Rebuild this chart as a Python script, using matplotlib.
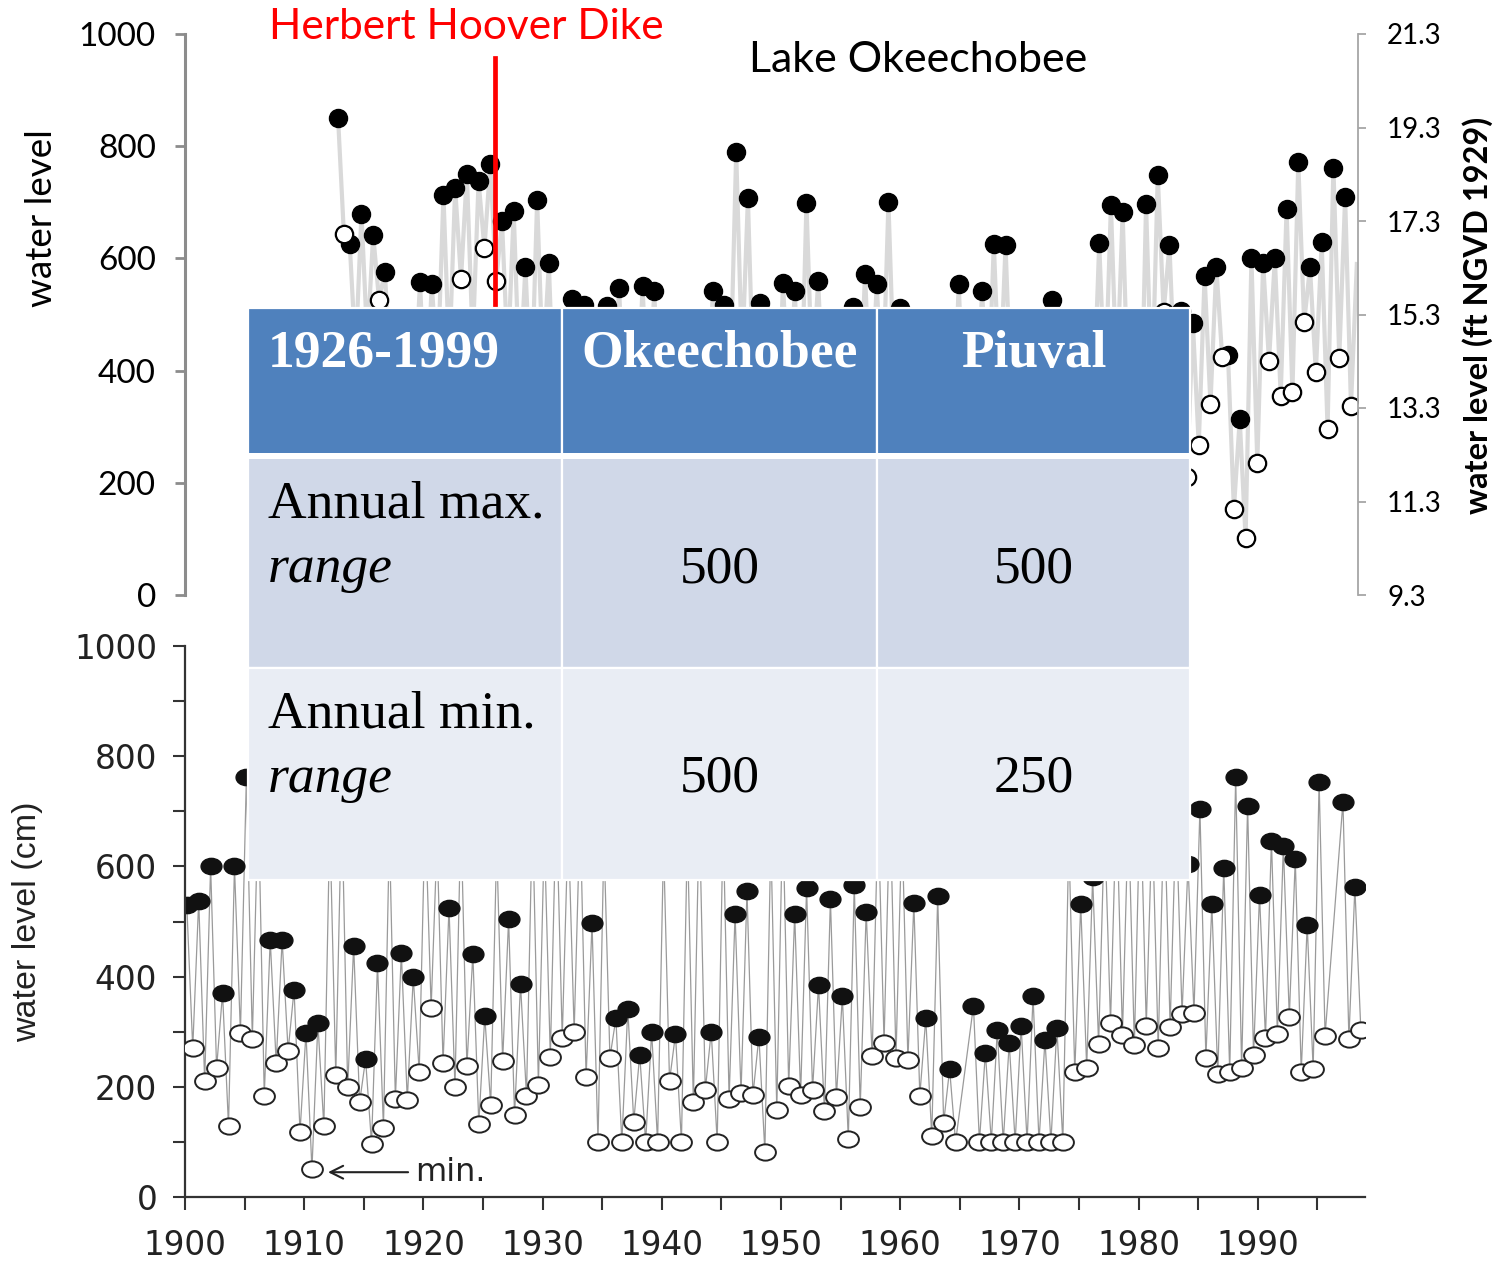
import numpy as np
import matplotlib.pyplot as plt
from matplotlib.path import Path
from matplotlib.transforms import Affine2D
from matplotlib.patches import Rectangle

# ------------------------------- data -------------------------------------- #

# Lake Okeechobee: annual max (1913-2000) and annual min (1913-1999)
top_max_years = list(range(1913, 2001))
top_max = [851, 625, 680, 642, 576, 470, 480, 558, 554, 713,
           726, 751, 738, 768, 667, 684, 584, 704, 591, 480,
           527, 517, 480, 515, 547, 475, 551, 541, 470, 470,
           460, 480, 541, 517, 790, 707, 521, 480, 557, 542,
           698, 560, 470, 470, 514, 573, 554, 700, 512, 480,
           470, 465, 460, 554, 480, 542, 626, 623, 470, 480,
           475, 526, 470, 460, 480, 627, 695, 682, 480, 697,
           748, 623, 507, 485, 569, 585, 427, 313, 600, 591,
           600, 688, 771, 584, 629, 762, 709, 590]
top_min_years = list(range(1913, 2000))
top_min = [643, 430, 450, 526, 380, 300, 350, 320, 400, 420,
           563, 450, 618, 559, 420, 380, 350, 400, 300, 320,
           280, 300, 350, 330, 300, 280, 320, 300, 280, 300,
           250, 270, 320, 380, 420, 350, 300, 280, 330, 300,
           380, 320, 260, 220, 300, 330, 350, 380, 300, 250,
           280, 300, 260, 300, 320, 330, 360, 340, 200, 250,
           300, 280, 260, 300, 330, 360, 380, 330, 220, 350,
           505, 360, 211, 267, 340, 424, 153, 101, 236, 417,
           355, 361, 486, 397, 296, 423, 337]
dike_year = 1926.4

# Piuval: annual max / min (no record for 1965 and 1996)
bot_years = [y for y in range(1900, 1999) if y not in (1965, 1996)]
bot_max = [530, 538, 600, 370, 600, 763, 720, 467, 467, 376,
           298, 315, 680, 720, 456, 250, 424, 660, 443, 399,
           700, 650, 525, 690, 441, 328, 640, 504, 386, 700,
           660, 720, 680, 700, 497, 650, 324, 341, 258, 300,
           640, 295, 660, 700, 300, 680, 514, 555, 291, 650,
           700, 513, 561, 385, 540, 364, 566, 518, 700, 720,
           680, 533, 324, 546, 232, 347, 262, 303, 279,
           311, 364, 285, 307, 650, 531, 580, 680, 720, 700,
           740, 690, 720, 700, 604, 704, 531, 598, 762, 710,
           548, 647, 637, 613, 494, 754, 717, 562]
bot_min = [270, 210, 234, 129, 298, 287, 184, 243, 265, 118,
           50, 128, 221, 199, 172, 97, 126, 178, 176, 227,
           343, 243, 200, 237, 133, 167, 247, 149, 183, 204,
           254, 288, 300, 217, 100, 253, 100, 137, 100, 100,
           211, 100, 172, 194, 100, 178, 188, 185, 82, 158,
           201, 185, 194, 156, 181, 106, 163, 255, 280, 252,
           249, 184, 110, 135, 100, 100, 100, 100, 100,
           100, 100, 100, 100, 226, 235, 277, 316, 294, 275,
           310, 270, 309, 332, 334, 252, 223, 227, 234, 258,
           289, 296, 327, 227, 232, 293, 287, 303]

# summary table
table_header = ['1926-1999', 'Okeechobee', 'Piuval']
table_rows = ['Annual max.', 'Annual min.']
table_okee = ['500', '500']
table_piuval = ['500', '250']

# ------------------------------- figure ------------------------------------ #

W, H = 1495, 1264
fig = plt.figure(figsize=(W / 100, H / 100), dpi=100)


def fx(px):
    return px / W


def fy(py):
    return 1 - py / H


# ---------------------------- top panel ------------------------------------ #

ax1 = fig.add_axes([fx(185), fy(595), (1358 - 185) / W, (595 - 34) / H])

tx = np.empty(len(top_max) + len(top_min))
tv = np.empty_like(tx)
tx[0::2] = np.array(top_max_years) + 0.0
tx[1::2] = np.array(top_min_years) + 0.5
tv[0::2] = top_max
tv[1::2] = top_min

ax1.plot(tx, tv, color='#d9d9d9', lw=3, zorder=1)
ax1.plot(top_max_years[:-1], top_max[:-1], 'o', ms=13, color='black', zorder=2)
ax1.plot(np.array(top_min_years) + 0.5, top_min, 'o', ms=12.5,
         mfc='white', mec='black', mew=1.6, zorder=3)
ax1.plot([dike_year, dike_year], [0, 957], color='red', lw=3.4, zorder=4)

ax1.set_xlim(1899.93, 2000.1)
ax1.set_ylim(0, 1000)
for s in ['top', 'bottom', 'right']:
    ax1.spines[s].set_visible(False)
ax1.spines['left'].set_color('#8c8c8c')
ax1.spines['left'].set_linewidth(2.2)
ax1.set_xticks([])
ax1.set_yticks(range(0, 1001, 200))
ax1.tick_params(axis='y', direction='out', length=7, width=2, color='#8c8c8c',
                labelsize=24, pad=14)
for lab in ax1.get_yticklabels():
    lab.set_family('Lato')

ax1b = ax1.twinx()
ax1b.set_ylim(9.3, 21.3)
ft_ticks = [9.3, 11.3, 13.3, 15.3, 17.3, 19.3, 21.3]
ax1b.set_yticks(ft_ticks)
ax1b.set_yticklabels(['%.1f' % t for t in ft_ticks], family='Lato')
for s in ['top', 'bottom', 'left']:
    ax1b.spines[s].set_visible(False)
ax1b.spines['right'].set_color('#a6a6a6')
ax1b.spines['right'].set_linewidth(1.3)
ax1b.tick_params(axis='y', direction='out', length=6, width=1.3, color='#a6a6a6',
                 labelsize=20, pad=15)

# --------------------------- bottom panel ---------------------------------- #

ax2 = fig.add_axes([fx(185), fy(1197), (1365 - 185) / W, (1197 - 646) / H])

bx = np.empty(2 * len(bot_years))
bv = np.empty_like(bx)
bx[0::2] = np.array(bot_years) + 0.15
bx[1::2] = np.array(bot_years) + 0.65
bv[0::2] = bot_max
bv[1::2] = bot_min

ellipse = Path.unit_circle().transformed(Affine2D().scale(1.0, 0.78))
ax2.plot(bx, bv, color='#9a9a9a', lw=0.9, zorder=1)
ax2.plot(bx[0::2], bot_max, ls='none', marker=ellipse, ms=15,
         color='#111111', zorder=2)
ax2.plot(bx[1::2], bot_min, ls='none', marker=ellipse, ms=15,
         mfc='white', mec='#222222', mew=1.4, zorder=3)

ax2.annotate('min.', xy=(1912.0, 45), xytext=(1919.3, 45),
             fontsize=23, family='DejaVu Sans', va='center', ha='left',
             color='#222222',
             arrowprops=dict(arrowstyle='->', lw=1.5, color='#222222',
                             shrinkA=3, shrinkB=0))

ax2.set_xlim(1900, 1999)
ax2.set_ylim(0, 1000)
for s in ['top', 'right']:
    ax2.spines[s].set_visible(False)
for s in ['left', 'bottom']:
    ax2.spines[s].set_color('#333333')
    ax2.spines[s].set_linewidth(1.6)
ax2.set_xticks(range(1900, 1991, 10))
ax2.set_xticks(range(1905, 1999, 10), minor=True)
ax2.set_yticks(range(0, 1001, 200))
ax2.set_yticks(range(100, 1000, 200), minor=True)
ax2.tick_params(axis='both', which='both', direction='out', length=9, width=1.5,
                color='#333333', labelsize=23.5, labelcolor='#222222')
ax2.tick_params(axis='x', pad=14)
ax2.tick_params(axis='y', pad=11)
for lab in ax2.get_xticklabels() + ax2.get_yticklabels():
    lab.set_family('DejaVu Sans')

# ------------------------------ labels ------------------------------------- #

fig.text(fx(42), fy(218), 'water level', rotation=90, ha='center', va='center',
         fontsize=26.5, family='Lato')
fig.text(fx(1478), fy(315), 'water level (ft NGVD 1929)', rotation=90,
         ha='center', va='center', fontsize=23.5, fontweight='bold', family='Lato')
fig.text(fx(28), fy(922), 'water level (cm)', rotation=90, ha='center',
         va='center', fontsize=24.5, family='Liberation Sans', color='#222222')
fig.text(fx(466), fy(27), 'Herbert Hoover Dike', ha='center', va='center',
         fontsize=30.5, color='#ff0000', family='Lato')
fig.text(fx(918), fy(60), 'Lake Okeechobee', ha='center', va='center',
         fontsize=31, family='Lato')

# ------------------------------ table -------------------------------------- #

col_edges = [248, 562, 877, 1190]
row_edges = [308, 455, 668, 880]
row_colors = ['#4f81bd', '#d0d8e8', '#e9edf4']

for r in range(3):
    for c in range(3):
        x0, x1 = col_edges[c], col_edges[c + 1]
        y0, y1 = row_edges[r], row_edges[r + 1]
        fig.add_artist(Rectangle((fx(x0), fy(y1)), (x1 - x0) / W, (y1 - y0) / H,
                                 transform=fig.transFigure,
                                 facecolor=row_colors[r], edgecolor='white',
                                 lw=1.6, zorder=5))
fig.add_artist(Rectangle((fx(248), fy(459)), (1190 - 248) / W, 6 / H,
                         transform=fig.transFigure, facecolor='white',
                         edgecolor='none', zorder=5))

serif = 'Liberation Serif'
fig.text(fx(268), fy(354), table_header[0], ha='left', va='center',
         fontsize=38.5, fontweight='bold', color='white', family=serif, zorder=6)
for c, name in zip([720, 1034], table_header[1:]):
    fig.text(fx(c), fy(354), name, ha='center', va='center', fontsize=38.5,
             fontweight='bold', color='white', family=serif, zorder=6)

for i, (ya, yb) in enumerate([(504, 569), (714, 779)]):
    fig.text(fx(268), fy(ya), table_rows[i], ha='left', va='center',
             fontsize=38.5, family=serif, zorder=6)
    fig.text(fx(268), fy(yb), 'range', ha='left', va='center', fontsize=38.5,
             style='italic', family=serif, zorder=6)
    fig.text(fx(720), fy(yb), table_okee[i], ha='center', va='center',
             fontsize=38.5, family=serif, zorder=6)
    fig.text(fx(1034), fy(yb), table_piuval[i], ha='center', va='center',
             fontsize=38.5, family=serif, zorder=6)

fig.savefig('out.png', dpi=100)
